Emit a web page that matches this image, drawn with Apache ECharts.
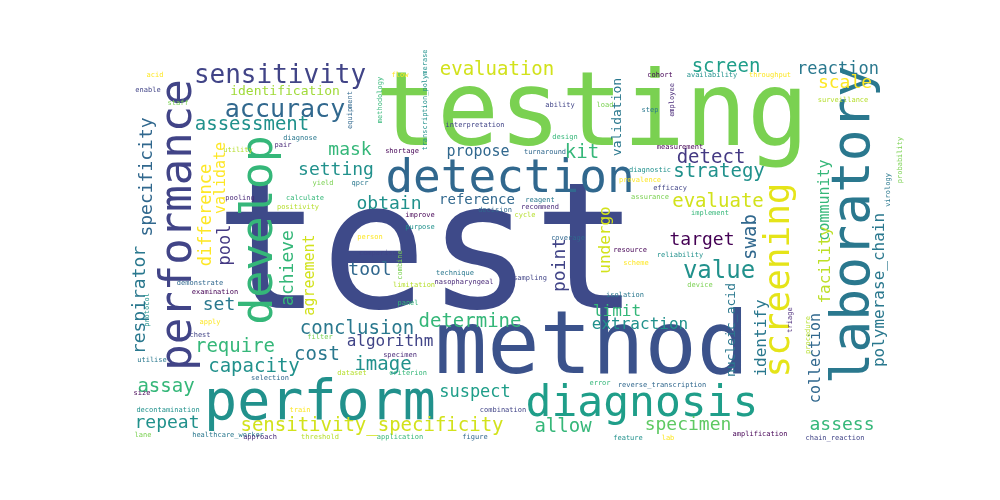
<!DOCTYPE html>
<html>
<head>
<meta charset="utf-8">
<script src="https://cdn.jsdelivr.net/npm/echarts@6/dist/echarts.min.js"></script>
</head>
<body style="margin:0;padding:0;background:#fff;">
<div id="main" style="width:1000px;height:500px;"></div>
<script>
// word cloud words: position (image px), size, orientation
var words = ['test','testing','method','perform','diagnosis','detection','develop','performance','laboratory','screening',
  'sensitivity','accuracy','assessment','identification','evaluation','screen','reaction','scale','mask','setting',
  'propose','kit','validation','detect','strategy','community','obtain','reference','evaluate','undergo',
  'target','swab','facility','polymerase_chain','value','point','limit','extraction','identify','nucleic_acid',
  'collection','specimen','allow','assess','sensitivity_specificity','repeat','assay','capacity','require','set',
  'conclusion','algorithm','cost','image','determine','suspect','tool','achieve','agreement','pool',
  'difference','validate','specificity','respirator',
  'acid','enable','staff','diagnose','pair','utility','methodology','equipment','shortage','transcription_polymerase',
  'flow','interpretation','yield','qpcr','pooling','positivity','calculate','decision','improve','purpose',
  'person','comparison','combine','technique','nasopharyngeal','limitation','panel','demonstrate','examination','protocol',
  'apply','chest','filter','utilise','specimen','dataset','criterion','selection','size','decontamination',
  'train','combination','lane','healthcare_worker','approach','threshold','application','figure','cohort','availability',
  'throughput','ability','load','step','employee','surveillance','design','turnaround','measurement','diagnostic',
  'prevalence','efficacy','assurance','reagent','recommend','cycle','implement','coverage','resource','reliability',
  'scheme','sampling','device','isolation','triage','procedure','error','reverse_transcription','amplification','feature',
  'lab','chain_reaction','probability','virology'];
var xs = [427,592,592,320,642,510,260,180,855,780,
  280,285,252,285,497,726,838,845,350,336,
  478,582,618,711,719,825,389,477,718,606,
  702,751,826,880,719,560,617,640,762,732,
  816,688,563,842,372,167,166,254,235,219,
  357,390,317,383,470,475,370,288,310,226,
  207,221,147,140,
  155,148,178,300,283,238,380,350,402,425,
  400,475,323,360,240,298,305,495,420,420,
  370,380,400,455,464,414,408,200,215,147,
  210,200,320,152,400,352,408,270,142,168,
  300,503,143,228,260,320,400,475,660,712,
  770,560,605,650,672,843,565,545,680,650,
  640,670,650,540,540,525,710,568,630,680,
  636,530,700,625,790,808,600,662,760,628,
  668,835,900,888];
var ys = [262,118,350,405,405,180,230,225,225,280,
  76,110,125,92,70,67,70,83,150,170,
  152,153,117,158,172,200,204,200,202,240,
  240,237,265,290,272,265,312,325,338,330,
  358,425,427,425,426,423,387,367,347,305,
  329,342,355,365,322,393,270,268,275,245,
  215,178,177,300,
  75,90,103,138,145,150,100,110,151,100,
  75,125,183,183,198,207,198,210,215,227,
  237,253,265,273,282,285,303,283,292,310,
  322,335,337,360,355,373,373,378,393,410,
  410,410,435,435,437,437,437,437,75,75,
  75,105,105,110,100,100,137,152,147,170,
  180,188,197,200,207,215,213,238,250,255,
  263,278,285,295,320,335,383,385,434,438,
  438,438,160,190];
var sizes = [176,103,87,55,43,46,45,44,53,36,
  26,25,19,13,19,19,17,18,18,18,
  15,19,13,19,19,15,18,14,19,16,
  18,19,16,16,24,18,16,16,16,13,
  15,18,19,18,19,18,19,19,19,18,
  19,16,19,19,19,17,18,18,15,17,
  17,15,18,18];
var rotations = [0,0,0,0,0,0,90,90,90,90,
  0,0,0,0,0,0,0,0,0,0,
  0,0,90,0,0,90,0,0,0,90,
  0,90,90,90,0,90,0,0,90,90,
  90,0,0,0,0,0,0,0,0,0,
  0,0,0,0,0,0,0,90,90,90,
  90,90,90,90];
var verticalSmall = ['methodology','equipment','transcription_polymerase','combine','protocol','employee','triage','procedure','probability','virology'];
var colors = ['#3e4a89','#7ad151','#3b528b','#21918c','#1f9e89','#31688e','#35b779','#414487','#2a788e','#e5e419',
  '#414487','#31688e','#21918c','#a0da39','#d2e21b','#1f9e89','#2a788e','#fde725','#35b779','#21918c',
  '#31688e','#35b779','#2a788e','#443983','#21918c','#35b779','#21918c','#31688e','#d2e21b','#d2e21b',
  '#440154','#31688e','#bddf26','#2a788e','#21918c','#414487','#35b779','#21918c','#2a788e','#2a788e',
  '#31688e','#5ec962','#35b779','#35b779','#d2e21b','#21918c','#35b779','#21918c','#35b779','#2a788e',
  '#2a788e','#414487','#2a788e','#21918c','#35b779','#1f9e89','#31688e','#35b779','#d2e21b','#443983',
  '#fde725','#fde725','#31688e','#2a788e'];
var smallPalette = ['#35b779','#31688e','#440154','#21918c','#fde725','#414487','#7ad151','#2a788e','#482878','#b5de2b'];

var data = words.map(function (w, i) {
  var big = i < sizes.length;
  return {
    name: w,
    value: [xs[i], ys[i]],
    label: {
      fontSize: big ? sizes[i] : 7,
      rotate: big ? rotations[i] : (verticalSmall.indexOf(w) >= 0 ? 90 : 0),
      color: big ? colors[i] : smallPalette[i % smallPalette.length]
    }
  };
});

var myChart = echarts.init(document.getElementById('main'));
myChart.setOption({
  animation: false,
  grid: { left: 0, right: 0, top: 0, bottom: 0 },
  xAxis: { type: 'value', min: 0, max: 1000, show: false },
  yAxis: { type: 'value', min: 0, max: 500, inverse: true, show: false },
  series: [{
    type: 'scatter',
    symbolSize: 0,
    itemStyle: { opacity: 1 },
    emphasis: { disabled: true },
    data: data,
    label: {
      show: true,
      position: 'inside',
      formatter: '{b}',
      fontFamily: 'DejaVu Sans Mono',
      opacity: 1,
      lineHeight: 0
    },
    labelLayout: { hideOverlap: false }
  }]
});
</script>
</body>
</html>
